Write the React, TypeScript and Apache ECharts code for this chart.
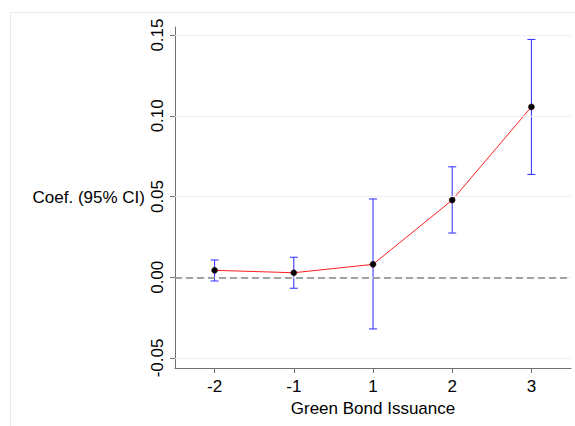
import React, { useEffect, useRef } from "react";
import * as echarts from "echarts";

const categories = ["-2", "-1", "1", "2", "3"];
const coefs = [0.0043, 0.0028, 0.008, 0.0478, 0.1055];
const ciLow = [-0.0023, -0.0068, -0.032, 0.0274, 0.0637];
const ciHigh = [0.0107, 0.0124, 0.0485, 0.0684, 0.1473];
const yTicks = [-0.05, 0, 0.05, 0.1, 0.15];

export default function App() {
  const ref = useRef<HTMLDivElement>(null);
  useEffect(() => {
    document.body.style.margin = "0";
    const chart = echarts.init(ref.current!, null, { renderer: "svg" });
    const font = "Arial, 'Liberation Sans', sans-serif";
    const axisColor = "#707070";
    chart.setOption({
      animation: false,
      backgroundColor: "#ffffff",
      graphic: [
        {
          type: "rect",
          shape: { x: 10.5, y: 12.5, width: 600, height: 450 },
          style: { fill: "none", stroke: "#e4ecee", lineWidth: 1 },
          silent: true,
          z: -10,
        },
      ],
      grid: { left: 175, right: 4, top: 27, bottom: 58, containLabel: false },
      xAxis: {
        type: "category",
        data: categories,
        boundaryGap: true,
        name: "Green Bond Issuance",
        nameLocation: "middle",
        nameGap: 28,
        nameTextStyle: { fontFamily: font, fontSize: 17, color: "#000" },
        axisLine: { show: true, onZero: false, lineStyle: { color: axisColor, width: 1 } },
        axisTick: { show: true, alignWithLabel: true, length: 5, lineStyle: { color: axisColor } },
        axisLabel: { fontFamily: font, fontSize: 17, color: "#000", margin: 10 },
        splitLine: { show: false },
      },
      yAxis: {
        type: "value",
        min: -0.0562,
        max: 0.155,
        name: "Coef. (95% CI)",
        nameLocation: "middle",
        nameRotate: 0,
        nameGap: 30,
        nameTextStyle: { fontFamily: font, fontSize: 17, color: "#000" },
        axisLine: { show: true, onZero: false, lineStyle: { color: axisColor, width: 1 } },
        axisTick: { show: true, length: 5, customValues: yTicks, lineStyle: { color: axisColor } },
        axisLabel: {
          customValues: yTicks,
          rotate: 90,
          fontFamily: font,
          fontSize: 17,
          color: "#000",
          margin: 9,
          formatter: (v: number) => v.toFixed(2),
        },
        splitLine: { show: false },
      },
      series: [
        {
          type: "line",
          data: yTicks.map(() => null),
          silent: true,
          markLine: {
            silent: true,
            symbol: "none",
            label: { show: false },
            lineStyle: { color: "#eaf0f2", width: 1, type: "solid" },
            data: yTicks.map((t) => ({ yAxis: t })),
          },
          z: 0,
        },
        {
          type: "line",
          data: coefs.map(() => null),
          silent: true,
          markLine: {
            silent: true,
            symbol: "none",
            label: { show: false },
            lineStyle: { color: "#888888", width: 1.5, type: [7, 4] },
            data: [{ yAxis: 0 }],
          },
          z: 1,
        },
        {
          type: "custom",
          z: 2,
          data: categories.map((_, i) => [i, ciLow[i], ciHigh[i]]),
          renderItem: (params: any, api: any) => {
            const x = api.value(0);
            const lo = api.coord([x, api.value(1)]);
            const hi = api.coord([x, api.value(2)]);
            const hw = 4;
            const style = { stroke: "#2a2aff", lineWidth: 1 };
            return {
              type: "group",
              children: [
                { type: "line", shape: { x1: lo[0], y1: lo[1], x2: hi[0], y2: hi[1] }, style },
                { type: "line", shape: { x1: lo[0] - hw, y1: lo[1], x2: lo[0] + hw, y2: lo[1] }, style },
                { type: "line", shape: { x1: hi[0] - hw, y1: hi[1], x2: hi[0] + hw, y2: hi[1] }, style },
              ],
            };
          },
        },
        {
          type: "line",
          z: 3,
          data: coefs,
          symbol: "circle",
          symbolSize: 6,
          showSymbol: true,
          lineStyle: { color: "#ff2020", width: 1 },
          itemStyle: { color: "#000000", borderColor: "#300000", borderWidth: 0.5 },
        },
      ],
    });
    return () => chart.dispose();
  }, []);
  return <div ref={ref} style={{ width: 575, height: 426 }} />;
}
